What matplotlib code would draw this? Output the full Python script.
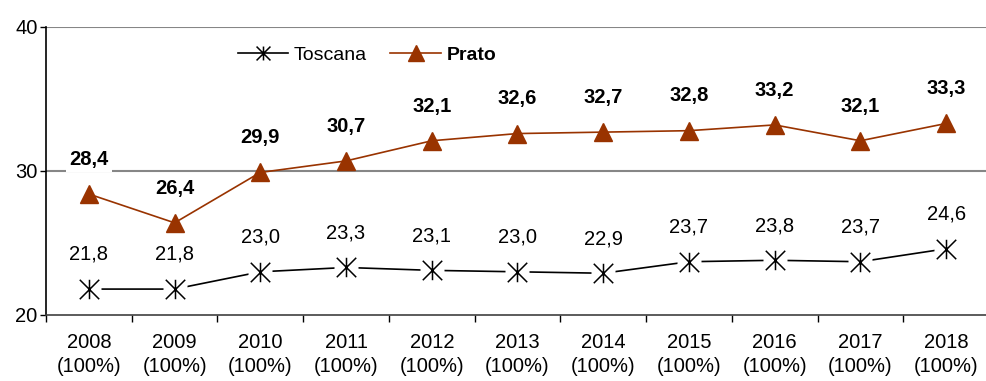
import matplotlib
matplotlib.use("Agg")
import matplotlib.pyplot as plt
from matplotlib.path import Path

plt.rcParams['font.family'] = ['Liberation Sans', 'DejaVu Sans']

years = ["2008", "2009", "2010", "2011", "2012", "2013", "2014", "2015", "2016", "2017", "2018"]
coverage = ["(100%)"] * 11
toscana = [21.8, 21.8, 23.0, 23.3, 23.1, 23.0, 22.9, 23.7, 23.8, 23.7, 24.6]
prato = [28.4, 26.4, 29.9, 30.7, 32.1, 32.6, 32.7, 32.8, 33.2, 32.1, 33.3]

PRATO_COLOR = "#993300"
GRID_COLOR = "#868686"
FS = 14.5

# Excel-style star marker: an X crossed by a vertical bar
star = Path(
    [(-1, -1), (1, 1), (-1, 1), (1, -1), (0, -1), (0, 1)],
    [Path.MOVETO, Path.LINETO, Path.MOVETO, Path.LINETO, Path.MOVETO, Path.LINETO],
)

fig = plt.figure(figsize=(9.86, 3.81), dpi=100)
ax = fig.add_axes([46 / 986, 1 - 315 / 381, 1 - 46 / 986 + 0.003, (315 - 27) / 381])

x = list(range(len(years)))

# Toscana: line, white knock-out behind markers, then star markers
ax.plot(x, toscana, color="black", lw=1.2, zorder=3)
ax.plot(x, toscana, ls="none", marker="s", ms=17, mfc="white", mec="none", zorder=4)
ax.plot(x, toscana, ls="none", marker=star, ms=14, mec="black", mfc="none", mew=1.1, zorder=5)

# Prato
ax.plot(x, prato, color=PRATO_COLOR, lw=1.2, marker="^", ms=12.5,
        mfc=PRATO_COLOR, mec=PRATO_COLOR, zorder=5)

for xi, v in zip(x, toscana):
    ax.annotate(f"{v:.1f}".replace(".", ","), (xi, v), xytext=(0, 25),
                textcoords="offset points", ha="center", va="center",
                fontsize=FS, zorder=6,
                bbox=dict(boxstyle="square,pad=0.15", fc="white", ec="none"))
for xi, v in zip(x, prato):
    ax.annotate(f"{v:.1f}".replace(".", ","), (xi, v), xytext=(0, 25),
                textcoords="offset points", ha="center", va="center",
                fontsize=FS, fontweight="bold", zorder=6,
                bbox=dict(boxstyle="square,pad=0.15", fc="white", ec="none"))

ax.set_xlim(-0.5, len(years) - 0.5)
ax.set_ylim(20, 40)
ax.set_yticks([20, 30, 40])
ax.set_yticklabels(["20", "30", "40"], fontsize=FS)

ax.set_xticks(x)
ax.set_xticklabels([f"{y}\n{c}" for y, c in zip(years, coverage)],
                   fontsize=FS, linespacing=1.3)
ax.set_xticks([i + 0.5 for i in range(-1, len(years))], minor=True)
ax.tick_params(axis="x", which="major", length=0, pad=13)
ax.tick_params(axis="x", which="minor", length=5, width=1, direction="out")
ax.tick_params(axis="y", length=4, width=1, direction="out", pad=2)

for yv in (30, 40):
    ax.axhline(yv, color=GRID_COLOR, lw=1.5, zorder=1)

ax.spines["top"].set_visible(False)
ax.spines["right"].set_visible(False)
ax.spines["left"].set_linewidth(1.2)
ax.spines["bottom"].set_linewidth(1.2)
ax.spines["bottom"].set_color("#404040")

# Legend
h_tos = plt.Line2D([], [], color="black", lw=1.2, marker=star, ms=10, mfc="none", mew=1.1)
h_pra = plt.Line2D([], [], color=PRATO_COLOR, lw=1.2, marker="^", ms=11,
                   mfc=PRATO_COLOR, mec=PRATO_COLOR)
leg = fig.legend([h_tos, h_pra], ["Toscana", "Prato"], ncol=2, frameon=False,
                 loc="center", bbox_to_anchor=((236 + 498) / 2 / 986, 1 - 55 / 381),
                 fontsize=14, handlelength=2.6, handletextpad=0.3, columnspacing=1.2)
leg.get_texts()[1].set_fontweight("bold")

fig.savefig("out.png", dpi=100)
